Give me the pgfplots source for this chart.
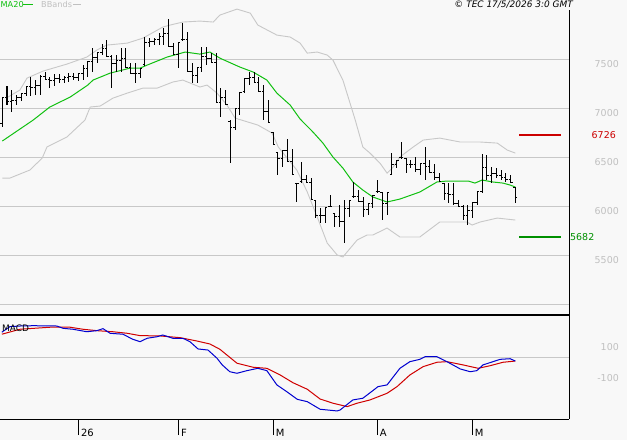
\documentclass[border=0pt]{standalone}
\usepackage{fontspec}
\setmainfont{DejaVu Sans}
\usepackage{pgfplots}
\usepackage{pgfplotstable}
\pgfplotsset{compat=1.18}
\definecolor{bgc}{HTML}{F8F8F8}
\definecolor{gridc}{HTML}{C8C8C8}
\definecolor{bandc}{HTML}{C8C8C8}
\definecolor{labc}{HTML}{C0C0C0}
\definecolor{mac}{HTML}{10C010}
\definecolor{redl}{HTML}{CC0000}
\definecolor{greenl}{HTML}{009000}
\definecolor{macdb}{HTML}{0000D0}
\definecolor{macdr}{HTML}{D00000}
\pgfdeclareplotmark{otick}{\pgfpathmoveto{\pgfqpoint{-2bp}{0pt}}\pgfpathlineto{\pgfqpoint{0pt}{0pt}}\pgfusepathqstroke}
\pgfdeclareplotmark{ctick}{\pgfpathmoveto{\pgfqpoint{0pt}{0pt}}\pgfpathlineto{\pgfqpoint{2bp}{0pt}}\pgfusepathqstroke}
\pgfplotstableread{
i O H L C
0 6850 7115 6809 7110
1 7110 7227 7033 7074
2 7074 7186 6962 7084
3 7084 7135 7033 7115
4 7115 7155 7074 7150
5 7150 7227 7125 7222
6 7222 7319 7125 7212
7 7212 7288 7135 7237
8 7237 7339 7135 7329
9 7329 7370 7288 7295
10 7295 7319 7206 7288
11 7288 7349 7227 7303
12 7303 7349 7257 7293
13 7293 7329 7257 7314
14 7314 7359 7268 7324
15 7324 7359 7288 7319
16 7319 7359 7278 7355
17 7355 7441 7288 7401
18 7401 7482 7319 7475
19 7475 7614 7370 7518
20 7518 7574 7461 7565
21 7565 7655 7543 7610
22 7610 7696 7523 7530
23 7530 7543 7206 7457
24 7457 7543 7370 7492
25 7492 7614 7370 7512
26 7512 7614 7410 7415
27 7415 7461 7349 7359
28 7359 7461 7257 7359
29 7359 7410 7308 7405
30 7445 7727 7441 7671
31 7671 7716 7625 7681
32 7681 7716 7645 7706
33 7706 7767 7645 7732
34 7732 7818 7645 7768
35 7768 7910 7625 7630
36 7630 7665 7543 7550
37 7550 7676 7410 7670
38 7700 7869 7696 7700
39 7700 7778 7370 7375
40 7375 7461 7257 7339
41 7339 7421 7257 7415
42 7415 7625 7370 7533
43 7533 7625 7441 7512
44 7512 7563 7461 7465
45 7465 7563 7053 7059
46 7059 7206 6911 7110
47 7110 7186 7033 7040
48 6870 6880 6441 6800
49 6800 7002 6778 6995
50 6995 7166 6931 7160
51 7170 7308 7166 7304
52 7304 7370 7237 7314
53 7314 7370 7257 7260
54 7260 7319 7166 7170
55 7170 7237 6880 6967
56 6967 7084 6849 6855
57 6755 6758 6625 6630
58 6550 6554 6319 6488
59 6488 6574 6401 6569
60 6569 6686 6452 6460
61 6460 6584 6319 6325
62 6230 6237 6044 6230
63 6250 6452 6248 6278
64 6278 6319 6237 6240
65 6240 6288 6064 6070
66 6060 6064 5880 5906
67 5906 5982 5829 5911
68 5911 5993 5829 5988
69 6000 6115 5993 6000
70 5925 5931 5789 5901
71 5901 6013 5789 5845
72 5845 6064 5625 5978
73 5978 6064 5891 6060
74 6100 6248 6095 6105
75 6105 6166 6044 6050
76 6050 6095 5891 5972
77 5972 6033 5911 6030
78 6030 6115 5982 6110
79 6150 6268 6146 6150
80 6140 6146 5860 6029
81 6029 6146 5911 6140
82 6325 6543 6319 6431
83 6431 6472 6390 6465
84 6495 6656 6492 6500
85 6490 6492 6339 6431
86 6431 6472 6390 6427
87 6427 6503 6350 6380
88 6380 6441 6319 6437
89 6437 6605 6268 6406
90 6406 6472 6339 6350
91 6350 6431 6268 6294
92 6294 6339 6248 6252
93 6235 6237 6064 6135
94 6135 6237 6033 6125
95 6125 6237 6013 6029
96 6029 6064 5993 6000
97 6000 6013 5860 5911
98 5911 6013 5809 5962
99 5962 6044 5880 6040
100 6040 6156 6013 6150
101 6150 6533 6135 6396
102 6396 6523 6268 6319
103 6319 6401 6237 6339
104 6339 6390 6288 6319
105 6319 6370 6268 6294
106 6294 6339 6248 6278
107 6278 6319 6237 6240
108 6195 6197 6033 6085
}\ohlc
\begin{document}
\begin{tikzpicture}
\fill[bgc] (0,0) rectangle (627bp,-440bp);
\begin{axis}[
  at={(0,0)}, anchor=north west, scale only axis,
  width=569bp, height=315bp,
  xmin=-0.484, xmax=119.3, ymin=4891, ymax=8105,
  axis line style={draw=none},
  xtick=\empty,
  ytick={5000,5500,6000,6500,7000,7500},
  yticklabels={,5500,6000,6500,7000,7500},
  ymajorgrids, grid style={gridc, line width=0.9bp},
  major tick length=0pt,
  ytick pos=right,
  yticklabel pos=right,
  yticklabel style={anchor=east, inner sep=0pt, xshift=50bp, yshift=-5bp, text=labc, font=\fontsize{9.5}{10}\selectfont},
  clip=false,
]
\addplot[bandc, line width=0.9bp, sharp plot] coordinates {
(1.2,7115) (3.7,7186) (5.2,7308) (8.6,7380) (13.6,7451) (17.8,7523) (19.9,7594) (22,7645) (26.3,7665) (29.6,7716) (33.8,7829) (35.3,7849) (38,7880) (41.6,7890) (44.4,7880) (45.8,7951) (49.4,8012) (52.2,7971) (53.8,7849) (57.8,7747) (60.6,7727) (62.7,7665) (64.2,7563) (66.3,7574) (68.4,7543) (69.6,7492) (71.7,7288) (73.2,7053) (74.3,6880) (75.9,6605) (77.4,6543) (79.5,6441) (81,6339) (82.3,6401) (83.7,6503) (86.5,6605) (88.6,6676) (92.1,6696) (96.4,6656) (100.6,6656) (104.2,6645) (106.3,6574) (108,6543)};
\addplot[bandc, line width=0.9bp, sharp plot] coordinates {
(0,6288) (1.6,6288) (5.8,6370) (8.4,6492) (9.4,6605) (13.6,6707) (17.4,6880) (18.5,7013) (20.6,7023) (23.3,7104) (26.3,7155) (29.6,7206) (32.6,7206) (35.9,7268) (38,7288) (41.6,7217) (43.1,7237) (45.2,7155) (47.3,7033) (49,6900) (53.8,6829) (56.8,6747) (58.1,6605) (62,6370) (64.2,6146) (66.3,5891) (68.4,5625) (70.5,5503) (71.7,5483) (74.7,5656) (76.8,5707) (78,5707) (81,5778) (83.7,5687) (87.9,5687) (90.7,5789) (92.1,5840) (97.8,5840) (98.9,5809) (100.6,5840) (104.2,5880) (108,5860)};
\addplot[mac, line width=1bp, sharp plot] coordinates {
(0,6666) (6.5,6880) (10,7013) (14.3,7115) (18,7237) (19.1,7288) (22.7,7359) (26.9,7410) (29,7410) (30.5,7441) (34.7,7523) (38.5,7574) (41.6,7553) (43.7,7574) (45.8,7512) (50,7421) (52.8,7370) (55.7,7288) (57.8,7155) (60.6,7033) (62.7,6890) (65.4,6758) (67.5,6645) (69.6,6503) (71.7,6390) (73.8,6248) (75.9,6166) (78,6095) (81,6044) (83.7,6074) (87.9,6146) (91.5,6248) (93.6,6258) (98.1,6258) (99.5,6237) (101,6268) (103.3,6248) (105.4,6237) (106.9,6217) (108,6197)};
\addplot[only marks, mark=otick, mark options={black, line width=1bp}, error bars/.cd, y dir=both, y explicit, error mark=none, error bar style={black, line width=1.1bp}]
  table[x=i, y=O, y error plus expr=\thisrow{H}-\thisrow{O}, y error minus expr=\thisrow{O}-\thisrow{L}] {\ohlc};
\addplot[only marks, mark=ctick, mark options={black, line width=1bp}] table[x=i, y=C] {\ohlc};
\addplot[redl, line width=2bp] coordinates {(108.8,6726) (117.6,6726)};
\addplot[greenl, line width=2bp] coordinates {(108.8,5682) (117.6,5682)};
\node[anchor=east, inner sep=0pt, text=redl, font=\fontsize{9.5}{10}\selectfont] at (axis cs:119.3,6726) [xshift=47bp] {6726};
\node[anchor=west, inner sep=0pt, text=greenl, font=\fontsize{9.5}{10}\selectfont] at (axis cs:119.3,5682) [xshift=1bp] {5682};
\draw[black, line width=1bp] (rel axis cs:1,0) -- (rel axis cs:1,0.968);
\end{axis}
\begin{axis}[
  at={(0,-315bp)}, anchor=north west, scale only axis,
  width=569bp, height=104bp,
  xmin=-0.484, xmax=119.3, ymin=-397, ymax=274,
  axis line style={draw=none},
  clip=false,
  xtick={16,37.1,57,78.9,98.9},
  xticklabels={26,F,M,A,M},
  xtick pos=bottom, ytick pos=right,
  tick align=outside, major tick length=16bp,
  x tick style={black, line width=1bp},
  xticklabel style={anchor=north west, inner sep=0pt, xshift=2.5bp, yshift=6bp, font=\fontsize{10}{11}\selectfont},
  ytick={-100,100}, yticklabels={-100,100},
  y tick style={draw=none},
  yticklabel pos=right,
  yticklabel style={anchor=east, inner sep=0pt, xshift=34bp, yshift=-5bp, text=labc, font=\fontsize{9.5}{10}\selectfont},
  extra y ticks={0}, extra y tick labels={},
  extra y tick style={grid=major, major tick length=0pt},
  grid style={gridc, line width=0.9bp},
]
\addplot[macdr, line width=1bp, sharp plot] coordinates {
(-0.1,150) (3.7,182) (10,195) (14.3,195) (17,182) (19.9,173) (23.3,166) (26.3,156) (29,141) (33.2,139) (37.4,128) (41,106) (43.7,87) (45.8,53) (49.4,-37) (52.8,-63) (55.7,-70) (58.5,-113) (61.2,-163) (64.2,-205) (66.9,-268) (69.6,-295) (72.6,-317) (74.7,-295) (77.4,-274) (81,-231) (83.1,-188) (85.8,-113) (88.6,-59) (91.5,-31) (93.6,-27) (97,-48) (100.2,-70) (102.7,-53) (105.4,-31) (108,-23)};
\addplot[macdb, line width=1bp, sharp plot] coordinates {
(-0.1,163) (1.6,199) (3.7,203) (6.5,205) (11.5,203) (12.8,188) (14.9,182) (17.8,166) (19.9,173) (21.2,186) (22.7,156) (25.4,150) (27.5,117) (29,102) (30.5,124) (32.6,134) (33.8,145) (35.9,124) (38,124) (39.5,102) (41.2,55) (43.3,48) (45.2,-5) (46.3,-48) (47.9,-92) (49.4,-102) (51.5,-85) (53.8,-70) (55.7,-85) (57.8,-177) (59.9,-221) (62.1,-270) (64.2,-285) (66.9,-334) (70.5,-345) (71.1,-339) (73.8,-274) (75.9,-263) (78,-214) (79.1,-188) (81,-177) (83.7,-70) (85.8,-27) (87.9,-12) (89,5) (91.5,5) (93.6,-27) (96.4,-74) (98.5,-92) (99.9,-85) (101.2,-48) (103.3,-27) (104.8,-12) (106.9,-8) (108,-23)};
\draw[black, line width=2bp] (rel axis cs:0,1) -- (rel axis cs:1,1);
\draw[black, line width=1bp] (rel axis cs:0,0) -- (rel axis cs:1,0);
\draw[black, line width=1bp] (rel axis cs:1,0) -- (rel axis cs:1,1);
\end{axis}
\node[anchor=west, inner sep=0pt, text=mac, font=\fontsize{8.2}{9}\selectfont] at (0.5bp,-4.5bp) {MA20};
\draw[mac, line width=1bp] (23bp,-4.5bp) -- (33bp,-4.5bp);
\node[anchor=west, inner sep=0pt, text=labc, font=\fontsize{8.2}{9}\selectfont] at (41bp,-4.5bp) {BBands};
\draw[labc, line width=1bp] (73bp,-4.5bp) -- (81bp,-4.5bp);
\node[anchor=east, inner sep=0pt, font=\fontsize{9}{10}\selectfont\itshape] at (573bp,-5bp) {© TEC 17/5/2026 3:0 GMT};
\node[anchor=west, inner sep=0pt, font=\fontsize{9}{10}\selectfont] at (2bp,-328bp) {MACD};
\pgfresetboundingbox
\path[use as bounding box] (0,0) rectangle (627bp,-440bp);
\end{tikzpicture}
\end{document}
